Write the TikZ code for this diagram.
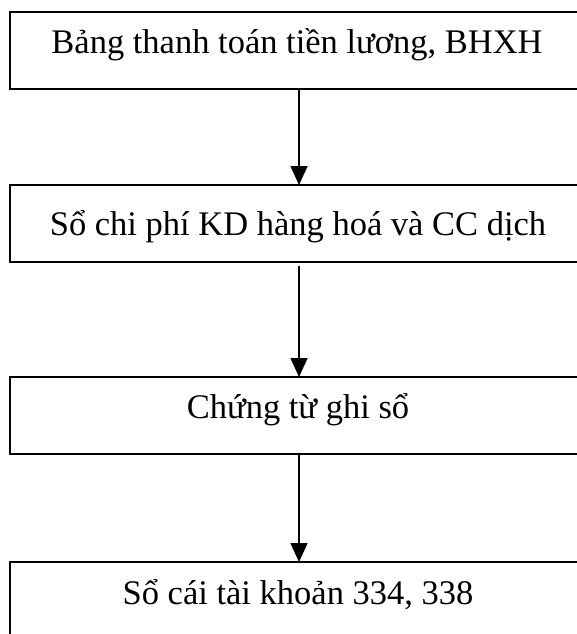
\documentclass[tikz,border=0pt]{standalone}
\usepackage{fontspec}
\setmainfont{Liberation Serif}
\usetikzlibrary{arrows.meta}
\begin{document}
\begin{tikzpicture}[x=1pt,y=-1pt,
  stagebox/.style={draw=black, line width=1.3pt, minimum width=576pt,
    minimum height=77pt, inner sep=0pt, outer sep=0pt},
  stagetext/.style={anchor=base, inner sep=0pt,
    font=\fontsize{34.5pt}{40pt}\selectfont},
  flow/.style={draw=black, line width=1.6pt,
    -{Triangle[length=19pt,width=17pt]}}]
\useasboundingbox (0,0) rectangle (577,634);
% the four stages of the ledger flow
\node[stagebox] (b1) at (298,50.5) {};
\node[stagebox] (b2) at (298,223.5) {};
\node[stagebox] (b3) at (298,415.5) {};
\node[stagebox] (b4) at (298,600.5) {};
\node[stagetext] (t1) at (297,54) {Bảng thanh toán tiền lương, BHXH};
\node[stagetext] (t2) at (298,235) {Sổ chi phí KD hàng hoá và CC dịch};
\node[stagetext] (t3) at (298,418) {Chứng từ ghi sổ};
\node[stagetext] (t4) at (298,604) {Sổ cái tài khoản 334, 338};
% connectors between stages
\draw[flow] (b1.south -| 299,0) -- (b2.north -| 299,0);
\draw[flow] ([yshift=-4pt]b2.south -| 299,0) -- (b3.north -| 299,0);
\draw[flow] (b3.south -| 299,0) -- (b4.north -| 299,0);
\end{tikzpicture}
\end{document}
